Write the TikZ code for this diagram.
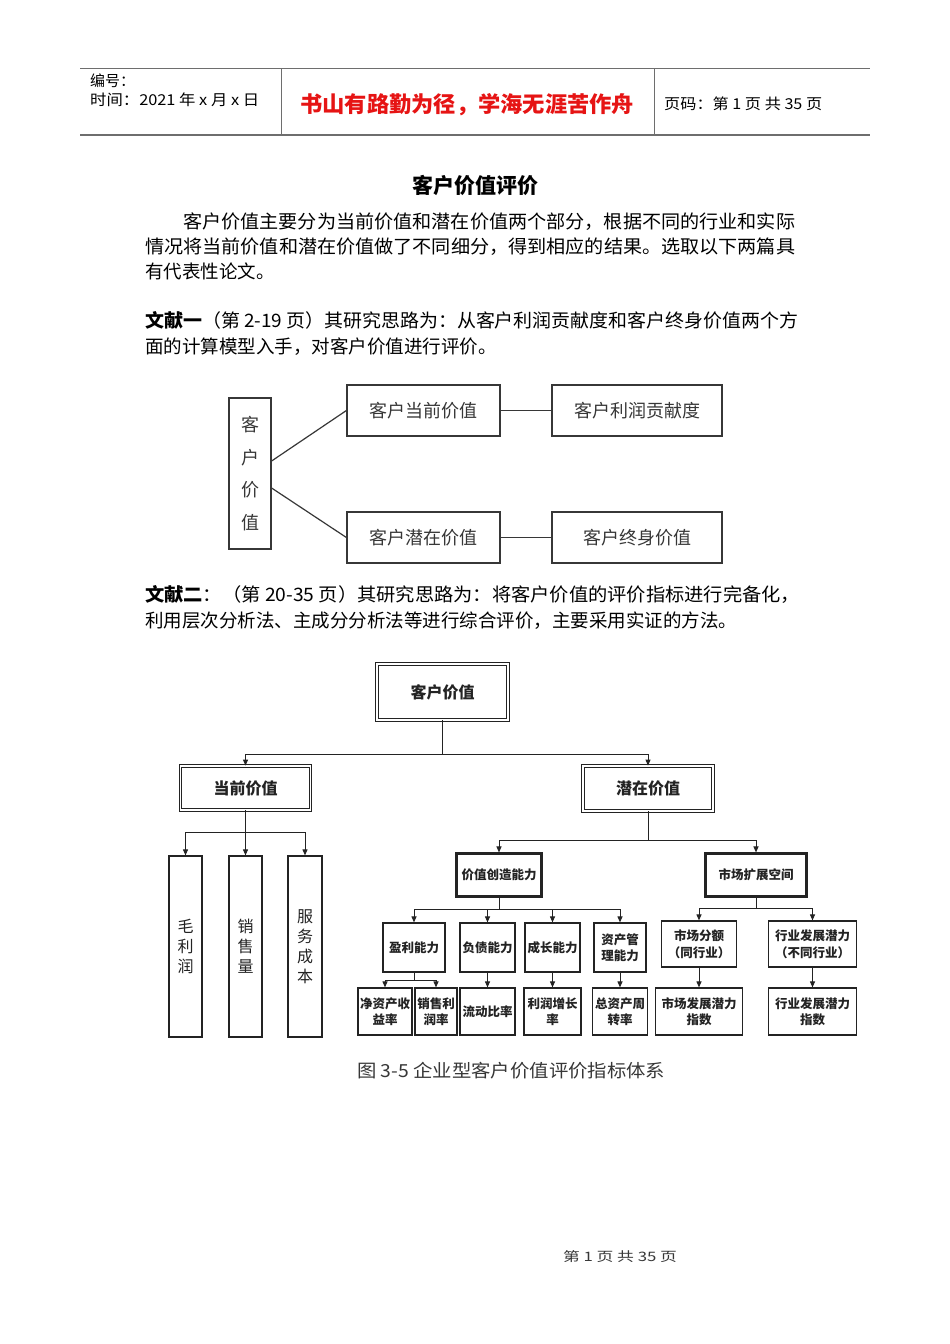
\documentclass[tikz,border=0pt]{standalone}
\usepackage{fontspec}
\usepackage{graphicx}
\setmainfont{Noto Sans CJK SC}
\usetikzlibrary{arrows.meta}
\newcommand{\fsz}[1]{\fontsize{#1pt}{#1pt}\selectfont}
\newcommand{\wbox}[2]{\resizebox{#1pt}{\height}{#2}}
\definecolor{hdrline}{RGB}{110,110,110}
\definecolor{dgray}{RGB}{55,55,55}
\definecolor{scan}{RGB}{35,35,35}
\definecolor{redtxt}{RGB}{230,20,20}
\tikzset{
  txt/.style={inner sep=0pt, anchor=base west, text=black},
  d1box/.style={draw=dgray, line width=1.2pt, inner sep=0pt, text=dgray, font=\fsz{18}, align=center},
  dblbox/.style={draw=scan, double=white, double distance=1.6pt, line width=0.8pt, inner sep=0pt, text=scan, align=center},
  dblsmall/.style={draw=scan, line width=1.1pt, inner sep=0pt, text=scan, align=center, font=\bfseries\fontsize{12.5pt}{16.5pt}\selectfont},
  innerline/.style={draw=scan, line width=0.8pt},
  sbox/.style={draw=scan, line width=1.2pt, inner sep=0pt, text=scan, align=center, font=\bfseries\fontsize{12.5pt}{16.5pt}\selectfont},
  tallbox/.style={draw=scan, line width=1.2pt, inner sep=0pt, text=scan, align=center, font=\fontsize{16pt}{20pt}\selectfont},
  conn/.style={draw=scan, line width=1pt},
  arr/.style={conn, -{Triangle[length=6pt,width=5pt]}},
  d1line/.style={draw=dgray, line width=1.2pt}
}
\begin{document}
\begin{tikzpicture}[x=1pt,y=-1pt]
\fill[white] (0,0) rectangle (950,1344);
\useasboundingbox (0,0) rectangle (950,1344);

% ---------- header ----------
\draw[draw=hdrline, line width=0.8pt] (80,68) -- (870,68);
\draw[draw=hdrline, line width=2pt] (80,135) -- (870,135);
\draw[draw=hdrline, line width=0.8pt] (281,68) -- (281,135);
\draw[draw=hdrline, line width=0.8pt] (654,68) -- (654,135);
\node[txt, font=\fsz{15}] (hno) at (90,86) {编号：};
\node[txt, font=\fsz{15}] (htime) at (90,105) {\wbox{169}{时间：2021 年 x 月 x 日}};
\node[txt, font=\bfseries\fsz{22}, text=redtxt] (hmotto) at (300,112) {\wbox{334}{书山有路勤为径，学海无涯苦作舟}};
\node[txt, font=\fsz{15}] (hpage) at (664,109) {\wbox{158}{页码：第 1 页\ 共 35 页}};

% ---------- title & text ----------
\node[inner sep=0pt, anchor=base, font=\bfseries\fsz{21}] (title) at (475,193) {客户价值评价};
\node[txt, font=\fsz{18.5}] (p1) at (183,228) {\wbox{612}{客户价值主要分为当前价值和潜在价值两个部分，根据不同的行业和实际}};
\node[txt, font=\fsz{18.5}] (p2) at (145,253) {\wbox{650}{情况将当前价值和潜在价值做了不同细分，得到相应的结果。选取以下两篇具}};
\node[txt, font=\fsz{18.5}] (p3) at (145,278) {有代表性论文。};
\node[txt, font=\fsz{18.5}] (w1a) at (145,327) {\wbox{653}{\textbf{文献一}（第 2-19 页）其研究思路为：从客户利润贡献度和客户终身价值两个方}};
\node[txt, font=\fsz{18.5}] (w1b) at (145,353) {面的计算模型入手，对客户价值进行评价。};
\node[txt, font=\fsz{18.5}] (w2a) at (145,601) {\wbox{655}{\textbf{文献二}：（第 20-35 页）其研究思路为：将客户价值的评价指标进行完备化，}};
\node[txt, font=\fsz{18.5}] (w2b) at (145,627) {利用层次分析法、主成分分析法等进行综合评价，主要采用实证的方法。};

% ---------- diagram 1 ----------
\node[d1box, minimum width=42pt, minimum height=151pt, font=\fontsize{18pt}{32.5pt}\selectfont] (cv1) at (250,473.5) {客\\户\\价\\值};
\node[d1box, minimum width=153pt, minimum height=51pt] (cur1) at (423.5,410.5) {客户当前价值};
\node[d1box, minimum width=170pt, minimum height=51pt] (prof1) at (637,410.5) {客户利润贡献度};
\node[d1box, minimum width=153pt, minimum height=51pt] (pot1) at (423.5,537.5) {客户潜在价值};
\node[d1box, minimum width=170pt, minimum height=51pt] (life1) at (637,537.5) {客户终身价值};
\draw[d1line] ([yshift=12.5pt]cv1.east) -- (cur1.west);
\draw[d1line] ([yshift=-14.5pt]cv1.east) -- (pot1.west);
\draw[d1line] (cur1.east) -- (prof1.west);
\draw[d1line] (pot1.east) -- (life1.west);

% ---------- diagram 2 ----------
\node[dblbox, minimum width=131pt, minimum height=56pt, font=\bfseries\fsz{16}] (root) at (442.5,692) {客户价值};
\node[dblbox, minimum width=130pt, minimum height=44pt, font=\bfseries\fsz{16}] (cv) at (245.5,788) {当前价值};
\node[dblbox, minimum width=130pt, minimum height=45pt, font=\bfseries\fsz{16}] (pv) at (648,788.5) {潜在价值};
\coordinate (j0) at (442.5,754);
\draw[conn] (root.south) -- (j0);
\draw[arr] (j0) -| (cv.north);
\draw[arr] (j0) -| (pv.north);

% current value children
\node[tallbox, minimum width=33pt, minimum height=181pt] (m1) at (185.5,946.5) {毛\\利\\润};
\node[tallbox, minimum width=33pt, minimum height=181pt] (m2) at (245.5,946.5) {销\\售\\量};
\node[tallbox, minimum width=34pt, minimum height=181pt] (m3) at (305,946.5) {服\\务\\成\\本};
\coordinate (j1) at (245.5,832);
\draw[conn] (cv.south) -- (j1);
\draw[arr] (j1) -| (m1.north);
\draw[arr] (j1) -- (m2.north);
\draw[arr] (j1) -| (m3.north);

% potential value children
\node[dblsmall, minimum width=86pt, minimum height=44pt] (vc) at (499,875) {价值创造能力};
\node[dblsmall, minimum width=102pt, minimum height=44pt] (me) at (756,875) {市场扩展空间};
\draw[innerline] ([shift={(2.4pt,-2.4pt)}]vc.north west) rectangle ([shift={(-2.4pt,2.4pt)}]vc.south east);
\draw[innerline] ([shift={(2.4pt,-2.4pt)}]me.north west) rectangle ([shift={(-2.4pt,2.4pt)}]me.south east);
\coordinate (j2) at (648,840);
\draw[conn] (pv.south) -- (j2);
\draw[arr] (j2) -| (vc.north);
\draw[arr] (j2) -| (me.north);

% value creation children
\node[sbox, minimum width=62pt, minimum height=49pt] (a1) at (414,947.5) {盈利能力};
\node[sbox, minimum width=55pt, minimum height=49pt] (a2) at (487.5,947.5) {负债能力};
\node[sbox, minimum width=55pt, minimum height=49pt] (a3) at (552.5,947.5) {成长能力};
\node[sbox, minimum width=52pt, minimum height=49pt] (a4) at (620,947.5) {资产管\\理能力};
\coordinate (j3) at (499,909);
\draw[conn] (vc.south) -- (j3);
\draw[arr] (j3) -| (a1.north);
\draw[arr] (j3) -| (a2.north);
\draw[arr] (j3) -| (a3.north);
\draw[arr] (j3) -| (a4.north);

\node[sbox, minimum width=54pt, minimum height=47pt] (b1) at (385,1011.5) {净资产收\\益率};
\node[sbox, minimum width=42pt, minimum height=47pt] (b2) at (436,1011.5) {销售利\\润率};
\node[sbox, minimum width=55pt, minimum height=47pt] (b3) at (487.5,1011.5) {流动比率};
\node[sbox, minimum width=57pt, minimum height=47pt] (b4) at (552.5,1011.5) {利润增长\\率};
\node[sbox, minimum width=55pt, minimum height=47pt] (b5) at (620,1011.5) {总资产周\\转率};
\coordinate (j4) at (414,980);
\draw[conn] (a1.south) -- (j4);
\draw[arr] (j4) -| (b1.north);
\draw[arr] (j4) -| (b2.north);
\draw[arr] (a2.south) -- (b3.north);
\draw[arr] (a3.south) -- (b4.north);
\draw[arr] (a4.south) -- (b5.north);

% market expansion children
\node[sbox, minimum width=75pt, minimum height=46pt] (c1) at (699,944) {市场分额\\（同行业）};
\node[sbox, minimum width=88pt, minimum height=46pt] (c2) at (812.5,944) {行业发展潜力\\（不同行业）};
\coordinate (j5) at (756,908);
\draw[conn] (me.south) -- (j5);
\draw[arr] (j5) -| (c1.north);
\draw[arr] (j5) -| (c2.north);
\node[sbox, minimum width=87pt, minimum height=47pt] (d1) at (699,1011.5) {市场发展潜力\\指数};
\node[sbox, minimum width=88pt, minimum height=47pt] (d2) at (812.5,1011.5) {行业发展潜力\\指数};
\draw[arr] (c1.south) -- (d1.north);
\draw[arr] (c2.south) -- (d2.north);

% caption & footer
\node[txt, font=\fsz{18}, text=dgray] (cap) at (357,1077) {\wbox{308}{图 3-5\ 企业型客户价值评价指标体系}};
\node[inner sep=0pt, anchor=base, font=\fsz{13}, text=dgray] (foot) at (620,1261) {\wbox{114}{第\ 1\ 页\ 共\ 35\ 页}};
\end{tikzpicture}
\end{document}
